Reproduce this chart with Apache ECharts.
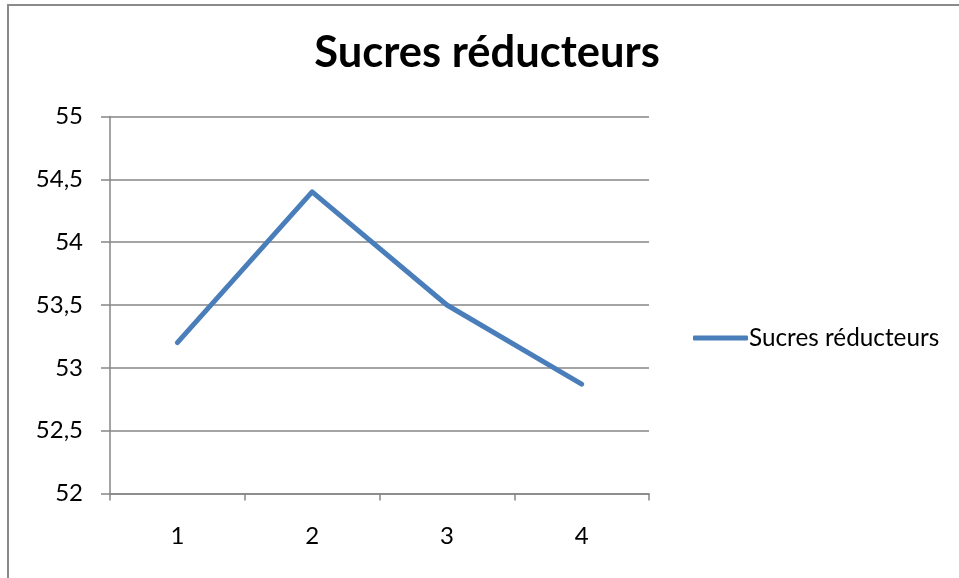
<!DOCTYPE html>
<html>
<head>
<meta charset="utf-8">
<script src="https://cdn.jsdelivr.net/npm/echarts@6/dist/echarts.min.js"></script>
<style>
  html, body { margin: 0; padding: 0; background: #ffffff; }
  #chart { width: 959px; height: 578px; }
</style>
</head>
<body>
<div id="chart"></div>
<script>
// Data
const categories = ['1', '2', '3', '4'];
const seriesName = 'Sucres réducteurs';
const values = [53.2, 54.4, 53.5, 52.87];
const yTicks = { min: 52, max: 55, step: 0.5 };

const FONT = 'Lato, "Open Sans", sans-serif';
const AXIS_GREY = '#868686';
const LINE_BLUE = '#4a7ebb';

const chart = echarts.init(document.getElementById('chart'), null, { renderer: 'canvas' });

chart.setOption({
  backgroundColor: '#ffffff',
  animation: false,
  graphic: [{
    type: 'rect',
    shape: { x: 8, y: 5, width: 1000, height: 700 },
    style: { fill: 'none', stroke: '#8a8a8a', lineWidth: 2 },
    silent: true
  }],
  title: {
    text: seriesName,
    left: 482,
    textAlign: 'center',
    top: 26,
    textStyle: { fontFamily: FONT, fontWeight: 'bold', fontSize: 43.5, color: '#000000' }
  },
  legend: {
    data: [{ name: seriesName, icon: 'roundRect' }],
    left: 688,
    top: 321,
    itemWidth: 55,
    itemHeight: 5,
    itemGap: 0,
    itemStyle: { color: LINE_BLUE, borderWidth: 0 },
    textStyle: { fontFamily: FONT, fontSize: 24.3, color: '#000000', padding: [0, 0, 0, -4] }
  },
  grid: { left: 110, right: 310, top: 116.5, bottom: 84.5, containLabel: false },
  xAxis: {
    type: 'category',
    data: categories,
    boundaryGap: true,
    axisLine: { lineStyle: { color: AXIS_GREY, width: 1.5 } },
    axisTick: { show: true, length: 7, interval: 0, lineStyle: { color: AXIS_GREY, width: 1.5 } },
    axisLabel: { margin: 31, fontFamily: FONT, fontSize: 24, color: '#000000' },
    splitLine: { show: false }
  },
  yAxis: {
    type: 'value',
    min: yTicks.min,
    max: yTicks.max,
    interval: yTicks.step,
    axisLine: { show: true, lineStyle: { color: AXIS_GREY, width: 1.5 } },
    axisTick: { show: true, length: 9, lineStyle: { color: AXIS_GREY, width: 1.5 } },
    axisLabel: {
      margin: 27,
      fontFamily: FONT, fontSize: 24, color: '#000000',
      formatter: v => String(v).replace('.', ',')
    },
    splitLine: { show: true, lineStyle: { color: AXIS_GREY, width: 1.5 } }
  },
  series: [{
    name: seriesName,
    type: 'line',
    data: values,
    symbol: 'none',
    lineStyle: { color: LINE_BLUE, width: 5, cap: 'round', join: 'round' },
    itemStyle: { color: LINE_BLUE }
  }]
});
</script>
</body>
</html>
